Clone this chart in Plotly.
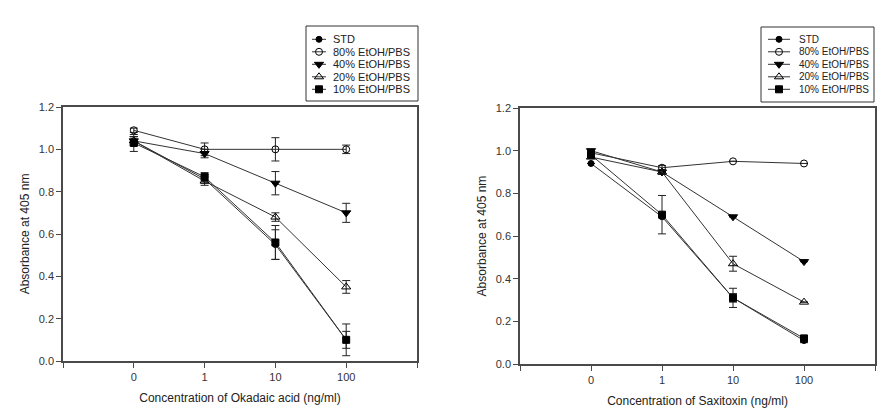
import plotly.graph_objects as go

concentrations = ["0", "1", "10", "100"]
series_names = ["STD", "80% EtOH/PBS", "40% EtOH/PBS", "20% EtOH/PBS", "10% EtOH/PBS"]

# Okadaic acid panel
oa_std = [1.04, 0.86, 0.55, 0.10]
oa_80 = [1.09, 1.00, 1.00, 1.00]
oa_40 = [1.04, 0.98, 0.84, 0.70]
oa_20 = [1.04, 0.85, 0.68, 0.35]
oa_10 = [1.03, 0.87, 0.56, 0.10]
oa_std_err = [0.02, 0.02, 0.07, 0.04]
oa_80_err = [0.01, 0.03, 0.055, 0.02]
oa_40_err = [0.02, 0.02, 0.055, 0.045]
oa_20_err = [0.02, 0.02, 0.02, 0.03]
oa_10_err = [0.04, 0.02, 0.08, 0.075]

# Saxitoxin panel
stx_std = [0.94, 0.69, 0.31, 0.11]
stx_80 = [0.99, 0.92, 0.95, 0.94]
stx_40 = [1.00, 0.90, 0.69, 0.48]
stx_20 = [0.97, 0.90, 0.47, 0.29]
stx_10 = [0.98, 0.70, 0.31, 0.12]
stx_std_err = [0.0, 0.0, 0.02, 0.01]
stx_80_err = [0.0, 0.01, 0.0, 0.0]
stx_40_err = [0.0, 0.01, 0.0, 0.0]
stx_20_err = [0.0, 0.01, 0.035, 0.0]
stx_10_err = [0.0, 0.09, 0.045, 0.0]

y_ticks = [0.0, 0.2, 0.4, 0.6, 0.8, 1.0, 1.2]

styles = [
    dict(symbol="circle", size=6),
    dict(symbol="circle-open", size=7),
    dict(symbol="triangle-down", size=8),
    dict(symbol="triangle-up-open", size=8),
    dict(symbol="square", size=7),
]

FONT = "Liberation Sans, Arial, sans-serif"
W, H = 886, 408
LINE_COL = "#333333"

fig = go.Figure()
xpos = list(range(len(concentrations)))

panels = [
    ([oa_std, oa_80, oa_40, oa_20, oa_10],
     [oa_std_err, oa_80_err, oa_40_err, oa_20_err, oa_10_err], "x", "y"),
    ([stx_std, stx_80, stx_40, stx_20, stx_10],
     [stx_std_err, stx_80_err, stx_40_err, stx_20_err, stx_10_err], "x2", "y2"),
]


def marker_for(st):
    return dict(symbol=st["symbol"], size=st["size"], color="black",
                line=dict(color="black", width=1))


for vals_list, errs_list, xa, ya in panels:
    for name, vals, errs, st in zip(series_names, vals_list, errs_list, styles):
        fig.add_trace(go.Scatter(
            x=xpos, y=vals, name=name, mode="lines+markers",
            xaxis=xa, yaxis=ya, showlegend=False,
            line=dict(color=LINE_COL, width=1),
            marker=marker_for(st),
            error_y=dict(type="data", array=errs, visible=True,
                         color="#222222", thickness=1, width=4),
        ))

# Legend boxes drawn as keys on hidden helper axes (pixel layout of reference)
ROW_STEP = 12.5
legend_specs = [
    # (xaxis, yaxis, box px (x0,x1,y0,y1), key line px (x0,x1), first row px, text shift, font size)
    ("x3", "y3", (306, 418, 26, 101), (312, 326), 39.3, 5, 11),
    ("x4", "y4", (761, 874, 27, 102), (768, 790), 39.3, 7, 10),
]

shapes = []
annotations = []
extra_axes = {}
nrows = len(series_names)
for xa, ya, box, keyx, row0, tshift, fsize in legend_specs:
    shapes.append(dict(type="rect", xref="paper", yref="paper",
                       x0=box[0] / W, x1=box[1] / W, y0=1 - box[3] / H, y1=1 - box[2] / H,
                       line=dict(color="#333333", width=1), fillcolor="white", layer="below"))
    for i, (name, st) in enumerate(zip(series_names, styles)):
        fig.add_trace(go.Scatter(
            x=[0, 1], y=[i, i], mode="lines", xaxis=xa, yaxis=ya, showlegend=False,
            line=dict(color=LINE_COL, width=1), cliponaxis=False, hoverinfo="skip"))
        fig.add_trace(go.Scatter(
            x=[0.5], y=[i], mode="markers", xaxis=xa, yaxis=ya, showlegend=False,
            marker=marker_for(st), cliponaxis=False, hoverinfo="skip"))
        annotations.append(dict(x=1, y=i, xref=xa, yref=ya, text=name, showarrow=False,
                                xanchor="left", yanchor="middle", xshift=tshift,
                                font=dict(family=FONT, size=fsize, color="#222222")))
    n = xa[1:]
    top_px = row0 - ROW_STEP / 2
    bot_px = row0 + ROW_STEP * (nrows - 0.5)
    extra_axes["xaxis" + n] = dict(domain=[keyx[0] / W, keyx[1] / W], range=[0, 1],
                                   visible=False, fixedrange=True, anchor=ya)
    extra_axes["yaxis" + n] = dict(domain=[1 - bot_px / H, 1 - top_px / H],
                                   range=[nrows - 0.5, -0.5],
                                   visible=False, fixedrange=True, anchor=xa)

axis_common = dict(
    showline=True, linecolor="#4a4a4a", linewidth=1.5, mirror=True,
    ticks="outside", ticklen=5, tickcolor="#4a4a4a", tickwidth=1,
    showgrid=False, zeroline=False, automargin=False,
    tickfont=dict(family=FONT, size=11, color="#333333"),
)

xtickvals = [-1] + xpos + [len(concentrations)]
xticktext = [""] + concentrations + [""]
title_font = dict(family=FONT, size=12, color="#222222")

fig.update_layout(
    width=W, height=H,
    margin=dict(l=0, r=0, t=0, b=0),
    paper_bgcolor="white", plot_bgcolor="white",
    font=dict(family=FONT, size=11, color="#222222"),
    xaxis=dict(domain=[63 / W, 417 / W], range=[-1, 4], tickvals=xtickvals,
               ticktext=xticktext, anchor="y",
               title=dict(text="Concentration of Okadaic acid (ng/ml)",
                          font=title_font, standoff=12),
               **axis_common),
    yaxis=dict(domain=[1 - 361 / H, 1 - 107 / H], range=[0, 1.2], tickvals=y_ticks,
               tickformat=".1f", anchor="x",
               title=dict(text="Absorbance at 405 nm", font=title_font, standoff=7),
               **axis_common),
    xaxis2=dict(domain=[520 / W, 875 / W], range=[-1, 4], tickvals=xtickvals,
                ticktext=xticktext, anchor="y2",
                title=dict(text="Concentration of Saxitoxin (ng/ml)",
                           font=title_font, standoff=12),
                **axis_common),
    yaxis2=dict(domain=[1 - 364 / H, 1 - 108 / H], range=[0, 1.2], tickvals=y_ticks,
                tickformat=".1f", anchor="x2",
                title=dict(text="Absorbance at 405 nm", font=title_font, standoff=7),
                **axis_common),
    shapes=shapes,
    annotations=annotations,
    showlegend=False,
    hovermode=False,
    **extra_axes,
)

fig.write_html("out.html",
               config={"displayModeBar": False},
               post_script="document.body.style.margin='0';document.body.style.overflow='hidden';")
